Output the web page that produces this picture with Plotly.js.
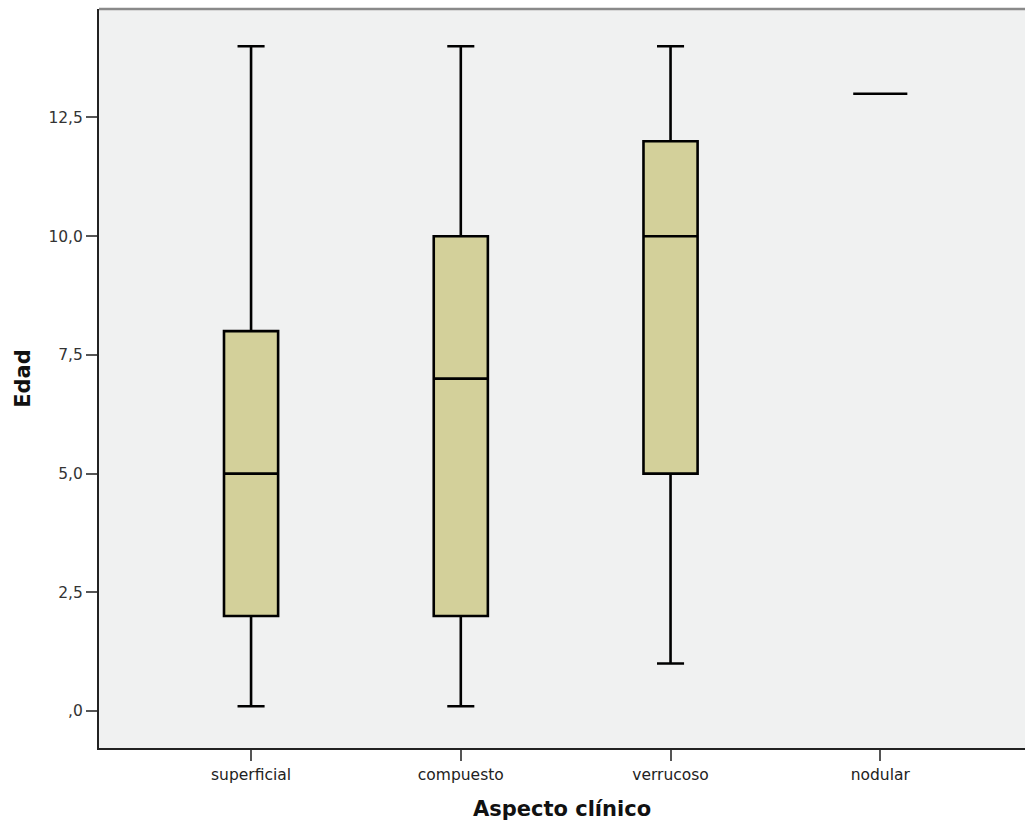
<!DOCTYPE html>
<html>
<head>
<meta charset="utf-8">
<script src="https://cdn.plot.ly/plotly-3.0.1.min.js"></script>
<style>html,body{margin:0;padding:0;background:#fff;}#chart{width:1025px;height:825px;}</style>
</head>
<body>
<div id="chart"></div>
<script>
var categories = ["superficial", "compuesto", "verrucoso", "nodular"];
var lowerWhisker = [0.1, 0.1, 1, 13];
var q1Values = [2, 2, 5, 13];
var medianValues = [5, 7, 10, 13];
var q3Values = [8, 10, 12, 13];
var upperWhisker = [14, 14, 14, 13];
var yTickVals = [0, 2.5, 5, 7.5, 10, 12.5];
var yTickText = [",0", "2,5", "5,0", "7,5", "10,0", "12,5"];

var trace = {
  type: "box",
  x: categories,
  q1: q1Values,
  median: medianValues,
  q3: q3Values,
  lowerfence: lowerWhisker,
  upperfence: upperWhisker,
  width: 0.258,
  whiskerwidth: 0.5,
  fillcolor: "#d3d09a",
  line: {color: "#000000", width: 2.6},
  boxpoints: false,
  hoverinfo: "skip",
  showlegend: false
};

var layout = {
  width: 1025,
  height: 825,
  margin: {l: 99, r: 0, t: 9, b: 77},
  paper_bgcolor: "#ffffff",
  plot_bgcolor: "#f0f1f1",
  font: {family: "DejaVu Sans, sans-serif", color: "#222"},
  xaxis: {
    type: "category",
    range: [-0.725, 3.69],
    showgrid: false,
    zeroline: false,
    showline: true,
    linecolor: "#222",
    linewidth: 2,
    ticks: "outside",
    ticklen: 11,
    tickwidth: 2,
    tickcolor: "#555",
    tickfont: {size: 15.5, color: "#222"},
    title: {text: "Aspecto clínico", font: {size: 21, family: "DejaVu Sans, sans-serif", color: "#111", weight: "bold"}, standoff: 19}
  },
  yaxis: {
    range: [-0.779, 14.785],
    showgrid: false,
    zeroline: false,
    showline: true,
    linecolor: "#222",
    linewidth: 2,
    ticks: "outside",
    ticklen: 11,
    tickwidth: 2,
    tickcolor: "#555",
    tickvals: yTickVals,
    ticktext: yTickText,
    tickfont: {size: 15.5, color: "#333"},
    title: {text: "Edad", font: {size: 21, family: "DejaVu Sans, sans-serif", color: "#111", weight: "bold"}, standoff: 12}
  },
  shapes: [{type: "line", xref: "paper", yref: "paper", x0: 0, x1: 1, y0: 1, y1: 1, line: {color: "#8a8a8a", width: 2.5}}]
};

Plotly.newPlot("chart", [trace], layout, {displayModeBar: false, staticPlot: true});
</script>
</body>
</html>
